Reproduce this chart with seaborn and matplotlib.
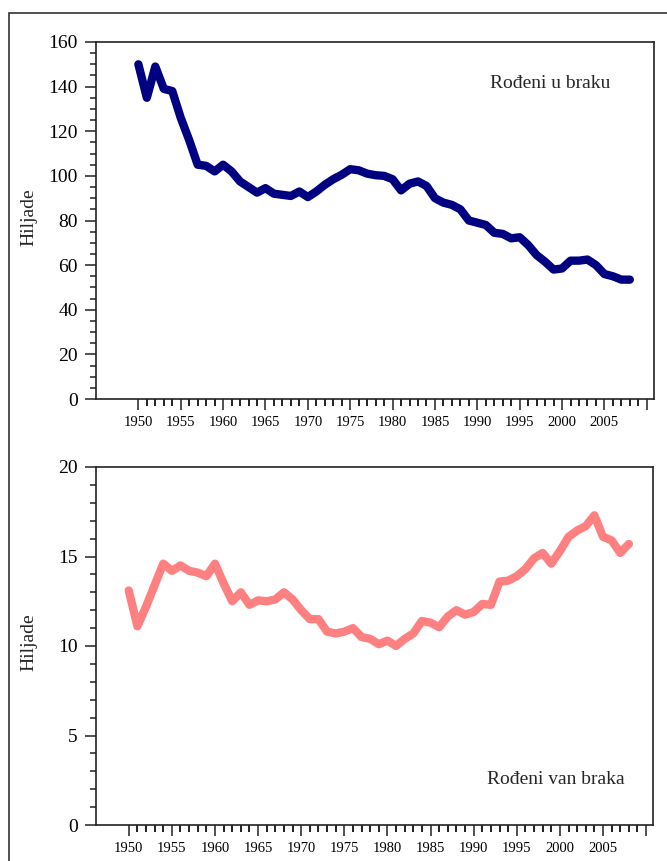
import numpy as np
import pandas as pd
import matplotlib
matplotlib.use("Agg")
import matplotlib.pyplot as plt
from matplotlib.patches import Rectangle
from matplotlib.ticker import FixedLocator, MultipleLocator, FixedFormatter
import seaborn as sns

years = list(range(1950, 2009))
rodjeni_u_braku = [150, 135, 149, 139, 138, 126, 116, 105, 104.5, 102,
                   105, 102, 97.5, 95, 92.5, 94.5, 92, 91.5, 91, 93,
                   90.5, 93, 96, 98.5, 100.5, 103, 102.5, 101, 100.3, 100,
                   98.5, 93.5, 96.5, 97.5, 95.5, 90, 88, 87, 85, 80,
                   79, 78, 74.5, 74, 72, 72.5, 69, 64.5, 61.5, 58,
                   58.5, 62, 62, 62.5, 60, 56, 55, 53.5, 53.5]
rodjeni_van_braka = [13.1, 11.1, 12.2, 13.4, 14.6, 14.2, 14.5, 14.2, 14.1, 13.9,
                     14.6, 13.5, 12.5, 13.0, 12.3, 12.55, 12.5, 12.6, 13.0, 12.6,
                     12.0, 11.5, 11.5, 10.8, 10.7, 10.8, 11.0, 10.5, 10.4, 10.1,
                     10.3, 10.0, 10.4, 10.7, 11.4, 11.3, 11.05, 11.65, 12.0, 11.75,
                     11.9, 12.35, 12.3, 13.6, 13.65, 13.9, 14.3, 14.9, 15.2, 14.6,
                     15.3, 16.1, 16.45, 16.7, 17.3, 16.1, 15.9, 15.2, 15.7]
x_major = list(range(1950, 2011, 5))
x_labels = [str(y) for y in range(1950, 2010, 5)] + [""]
x_minor = [y for y in range(1950, 2011) if y % 5 != 0]

df = pd.DataFrame({"godina": years, "u_braku": rodjeni_u_braku, "van_braka": rodjeni_van_braka})

sns.set_theme(style="ticks")
plt.rcParams["font.family"] = ["Liberation Serif", "DejaVu Serif"]
plt.rcParams["axes.edgecolor"] = "#222222"
plt.rcParams["axes.linewidth"] = 1.2
plt.rcParams["xtick.color"] = "#222222"
plt.rcParams["ytick.color"] = "#222222"
plt.rcParams["xtick.labelcolor"] = "black"
plt.rcParams["ytick.labelcolor"] = "black"

W, H = 667, 861
fig = plt.figure(figsize=(W / 100, H / 100), dpi=100)
fig.patch.set_facecolor("white")

ax1 = fig.add_axes([96 / W, 1 - 399 / H, (654 - 96) / W, (399 - 42) / H])
ax2 = fig.add_axes([96 / W, 1 - 825 / H, (653 - 96) / W, (825 - 467) / H])

sns.lineplot(data=df, x="godina", y="u_braku", ax=ax1, color="#000080", linewidth=6,
             solid_capstyle="round", solid_joinstyle="round")
sns.lineplot(data=df, x="godina", y="van_braka", ax=ax2, color="#FF8080", linewidth=6,
             solid_capstyle="round", solid_joinstyle="round")

ax1.set_xlim(1945.0, 2010.85)
ax1.set_ylim(0, 160)
ax2.set_xlim(1946.2, 2010.8)
ax2.set_ylim(0, 20)

for ax, ymaj, ymin in [(ax1, 20, 5), (ax2, 5, 1)]:
    ax.set_xticks(x_major)
    ax.set_xticklabels(x_labels)
    ax.set_xticks(x_minor, minor=True)
    ax.yaxis.set_major_locator(MultipleLocator(ymaj))
    ax.yaxis.set_minor_locator(MultipleLocator(ymin))
    ax.tick_params(axis="x", which="major", direction="out", length=8, width=1.1, labelsize=10.5, pad=4)
    ax.tick_params(axis="x", which="minor", direction="out", length=5, width=1.4, bottom=True,
                   color="#222222")
    ax.tick_params(axis="y", which="major", direction="out", length=8, width=1.1, labelsize=14, pad=5)
    ax.tick_params(axis="y", which="minor", direction="out", length=4.5, width=1.1)
    ax.set_xlabel("")
    ax.set_ylabel("Hiljade", fontsize=14)
    ax.yaxis.set_label_coords(-0.105, 0.51)
    for s in ax.spines.values():
        s.set_visible(True)

fig.text(490 / W, 1 - 84 / H, "Rođeni u braku", ha="left", va="center", fontsize=14)
fig.text(487 / W, 1 - 780 / H, "Rođeni van braka", ha="left", va="center", fontsize=14)

fig.add_artist(Rectangle((9 / W, -0.05), 1.2, 1 - 13 / H + 0.05, transform=fig.transFigure,
                         fill=False, edgecolor="#333333", linewidth=1.2))

fig.savefig("out.png", dpi=100, facecolor="white")
